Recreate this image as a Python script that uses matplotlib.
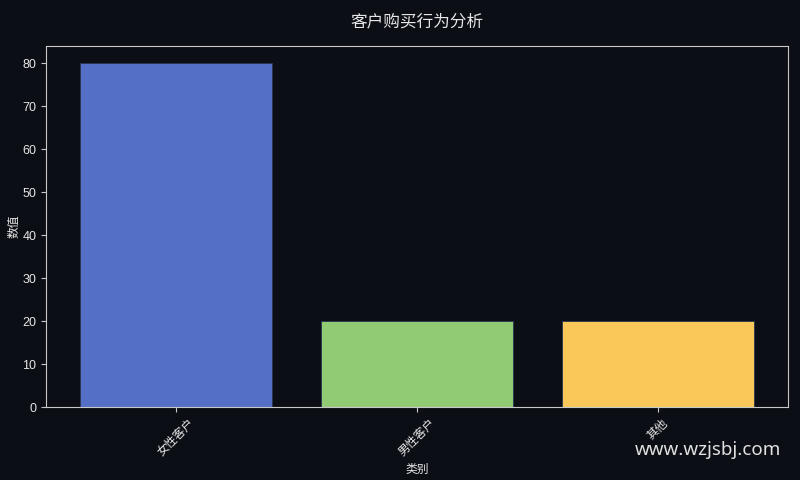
import matplotlib
matplotlib.use("Agg")
import matplotlib.pyplot as plt

plt.rcParams['font.family'] = ['Liberation Sans', 'Noto Sans CJK SC', 'DejaVu Sans']

categories = ["女性客户", "男性客户", "其他"]
values = [80, 20, 20]
bar_colors = ["#5470c6", "#91cc75", "#fac858"]

BG = "#0c0e15"
FG = "#e6e6e6"

fig = plt.figure(figsize=(8, 4.8), dpi=100, facecolor=BG)
ax = fig.add_axes([0.0575, 0.152, 0.9275, 0.752])
ax.set_facecolor(BG)

ax.bar(categories, values, width=0.8, color=bar_colors,
       edgecolor="#2a3550", linewidth=0.6)

ax.set_title("客户购买行为分析", color=FG, fontsize=12, pad=14)
ax.set_xlabel("类别", color=FG, fontsize=8.5)
ax.set_ylabel("数值", color=FG, fontsize=8.5, labelpad=1)
ax.tick_params(axis="x", colors="#c8c8c8", labelcolor=FG, labelsize=8.5, labelrotation=45)
ax.tick_params(axis="y", colors="#c8c8c8", labelcolor=FG, labelsize=9)
for s in ax.spines.values():
    s.set_color("#c8c8c8")
    s.set_linewidth(0.8)

fig.text(0.976, 0.062, "www.wzjsbj.com", color="#e0e0e0", fontsize=13.5,
         ha="right", va="center", family=["Noto Sans", "DejaVu Sans"])

fig.savefig("out.png", dpi=100, facecolor=BG)
